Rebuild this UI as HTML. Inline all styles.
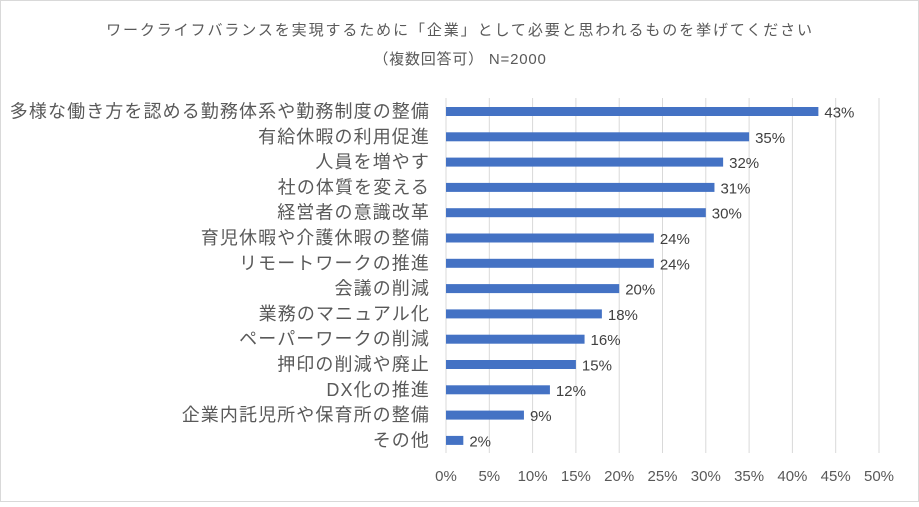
<!DOCTYPE html>
<html><head><meta charset="utf-8"><style>
body{margin:0;background:#fff;}
#c{position:relative;width:919px;height:502px;font-family:"Liberation Sans","Noto Sans CJK JP",sans-serif;}
</style></head><body>
<div id="c">
<svg id="s" width="919" height="502">
<rect x="0.5" y="0.5" width="918" height="501" fill="#fff" stroke="#d9d9d9"/>
<text x="460" y="35" text-anchor="middle" font-size="15" letter-spacing="1.9" fill="#595959">ワークライフバランスを実現するために「企業」として必要と思われるものを挙げてください</text>
<text x="460" y="64" text-anchor="middle" font-size="15" letter-spacing="0.8" fill="#595959">（複数回答可） N=2000</text>
</svg>
</div>
<script>
const categories=["多様な働き方を認める勤務体系や勤務制度の整備","有給休暇の利用促進","人員を増やす","社の体質を変える","経営者の意識改革","育児休暇や介護休暇の整備","リモートワークの推進","会議の削減","業務のマニュアル化","ペーパーワークの削減","押印の削減や廃止","DX化の推進","企業内託児所や保育所の整備","その他"];
const values=[43,35,32,31,30,24,24,20,18,16,15,12,9,2];
const ticks=[0,5,10,15,20,25,30,35,40,45,50];
const svg=document.getElementById('s');
const NS='http://www.w3.org/2000/svg';
const x0=446,x1=879,yTop=98,yBot=453,row0=111.5,step=25.3;
const xs=v=>x0+(v/50)*(x1-x0);
const ys=i=>row0+i*step;
function mk(t,a){const e=document.createElementNS(NS,t);for(const k in a)e.setAttribute(k,a[k]);svg.appendChild(e);return e;}
ticks.forEach(t=>{
 const g=mk('line',{x1:xs(t),x2:xs(t),y1:yTop,y2:yBot,stroke:'#d9d9d9','stroke-width':1});
 
 
 const l=mk('text',{x:xs(t),y:481,'text-anchor':'middle','font-size':15,fill:'#595959'});
 l.textContent=t+'%';
 
 
});
categories.forEach((c,i)=>{
 const y=ys(i);
 const b=mk('rect',{x:x0,y:y-4.5,width:xs(values[i])-x0,height:9,fill:'#4472c4'});
 
 
 const l=mk('text',{x:430,y:y+6,'text-anchor':'end','font-size':18,'letter-spacing':1.1,fill:'#595959'});
 l.textContent=c;
 
 
 const v=mk('text',{x:xs(values[i])+6,y:y+6,'font-size':15,fill:'#404040'});
 v.textContent=values[i]+'%';
 
 
});
</script>
</body></html>
